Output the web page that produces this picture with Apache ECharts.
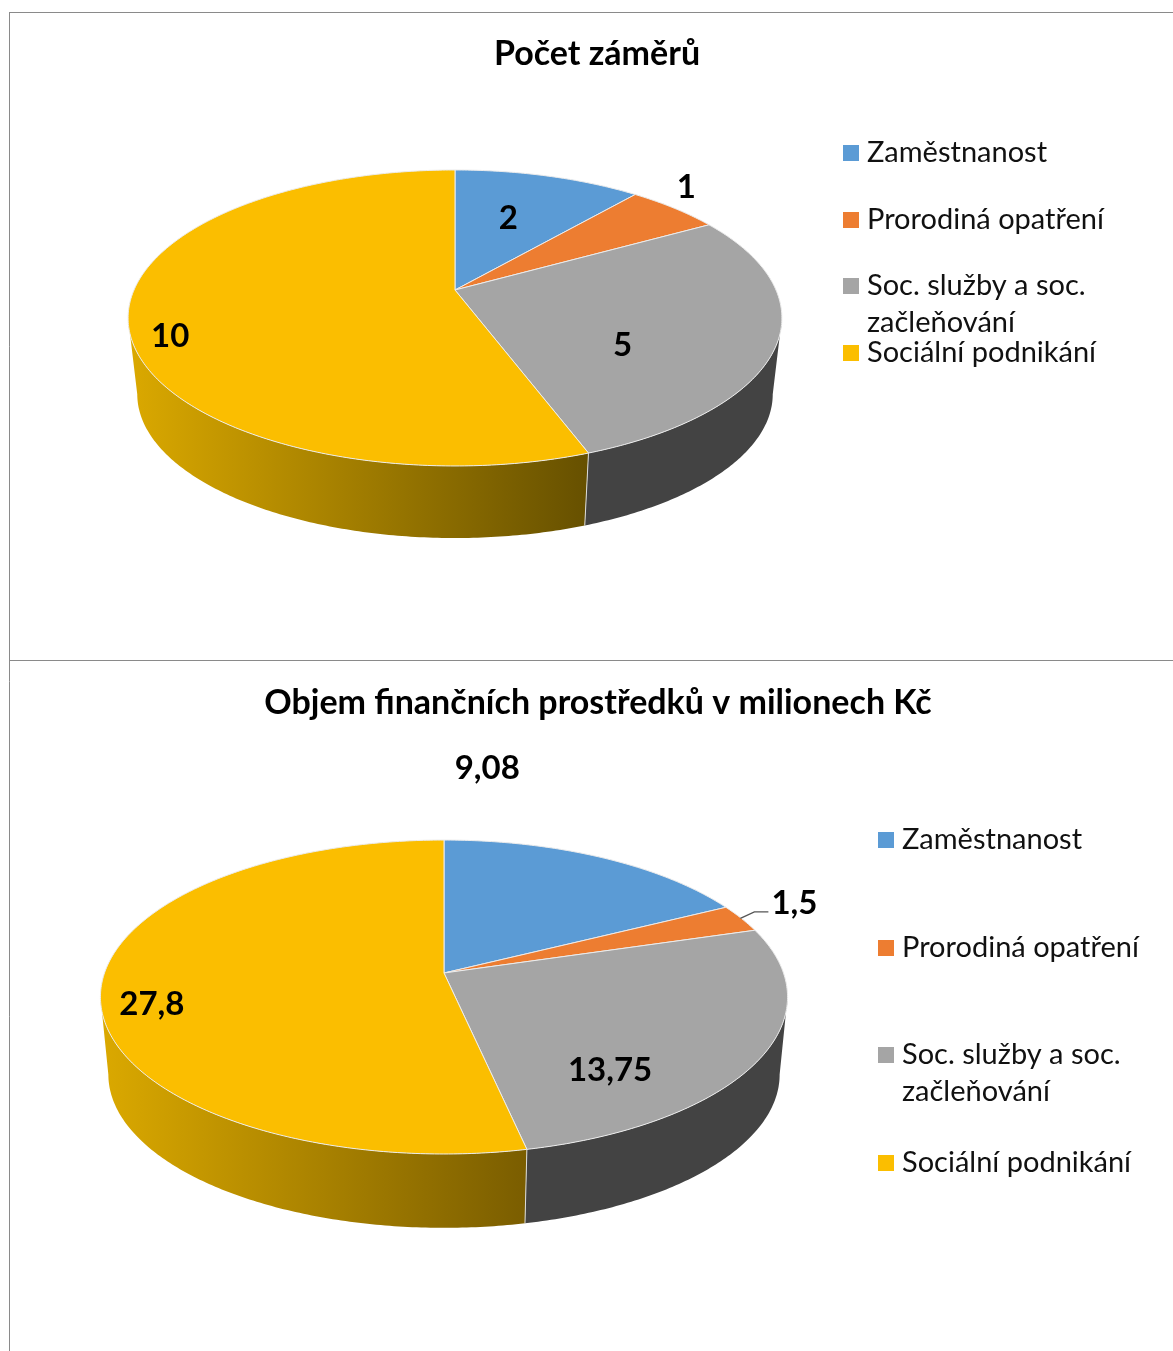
<!DOCTYPE html>
<html><head><meta charset="utf-8">
<style>html,body{margin:0;padding:0;background:#fff}#c{width:1173px;height:1351px}</style>
<script src="https://cdn.jsdelivr.net/npm/echarts@6/dist/echarts.min.js"></script>
</head><body><div id="c"></div>
<script>
// ---- data ----
const categories = ['Zaměstnanost', 'Prorodiná opatření', 'Soc. služby a soc. začleňování', 'Sociální podnikání'];
const countValues = [2, 1, 5, 10];
const fundValues = [9.08, 1.5, 13.75, 27.8];
const countLabels = ['2', '1', '5', '10'];
const fundLabels = ['9,08', '1,5', '13,75', '27,8'];
const chartTitles = ['Počet záměrů', 'Objem finančních prostředků v milionech Kč'];

// ---- style / layout ----
const FONT = 'Lato';
const topColors = ['#5B9BD5', '#ED7D31', '#A5A5A5', '#FBBE00'];
const pies = [
  { values: countValues, labels: countLabels, cx: 455, ay: 290, R: 321, S: 142.7, p: 0.189, k: 0.972, drop: 77,
    wallColors: [['#37678f', '#37678f'], ['#a0521d', '#a0521d'], ['#434343', '#434343'], ['#DBA900', '#665000']],
    labelOffsets: [[-40, 42], [12, -21], [-155, 3], [42, 21]], leader: [null, null, null, null],
    legendX: 843, legendY: [153, 220, 286, 353], titleX: 597, titleY: 54 },
  { values: fundValues, labels: fundLabels, cx: 444, ay: 973, R: 339.5, S: 153.3, p: 0.153, k: 0.977, drop: 78,
    wallColors: [['#37678f', '#37678f'], ['#a0521d', '#a0521d'], ['#434343', '#434343'], ['#DBA900', '#7a5d00']],
    labelOffsets: [[-113, -89], [53, -15], [-151, 13], [51, 15]], leader: [null, [[-1, 0], [13, -6.5], [27, -6.5]], null, null],
    legendX: 878, legendY: [840, 948, 1055, 1163], titleX: 598, titleY: 703 }
];
const legendLineHeight = 37;
const legendWrapped = { 'Soc. služby a soc. začleňování': '\nSoc. služby a soc.\nzačleňování' };
const RAD = Math.PI / 180;

function rimPoint(pie, deg) {
  const s = Math.sin(deg * RAD), c = Math.cos(deg * RAD), d = 1 + pie.p * c;
  return [pie.cx + pie.R * s / d, pie.ay - pie.S * c / d];
}
function lowerPoint(pie, deg) {
  const q = rimPoint(pie, deg);
  return [pie.cx + (q[0] - pie.cx) * pie.k, pie.ay + pie.drop + (q[1] - pie.ay) * pie.k];
}
function arc(fn, pie, a, b) {
  const n = Math.max(2, Math.ceil(Math.abs(b - a) * 1.5)), out = [];
  for (let i = 0; i <= n; i++) out.push(fn(pie, a + (b - a) * i / n));
  return out;
}
function makeRender(pie, idx) {
  const total = pie.values.reduce((x, y) => x + y, 0);
  const before = pie.values.slice(0, idx).reduce((x, y) => x + y, 0);
  return function (params, api) {
    const start = before / total * 360;
    const end = start + api.value(0) / total * 360;
    const mid = (start + end) / 2;
    const children = [];
    const a0 = Math.acos(-pie.p) / RAD, a1 = 360 - a0;
    const ws = Math.max(start, a0), we = Math.min(end, a1);
    if (we > ws) {
      const top = arc(rimPoint, pie, ws, we), low = arc(lowerPoint, pie, ws, we).reverse();
      children.push({
        type: 'polygon', z2: 1, shape: { points: top.concat(low) },
        style: { fill: new echarts.graphic.LinearGradient(0, 0, 1, 0, [
          { offset: 0, color: pie.wallColors[idx][0] }, { offset: 1, color: pie.wallColors[idx][1] }]), stroke: null }
      });
      if (we < a1 && we === end) {
        children.push({ type: 'polyline', z2: 2,
          shape: { points: [rimPoint(pie, we), lowerPoint(pie, we)] },
          style: { stroke: '#dcdcdc', lineWidth: 1, fill: null } });
      }
    }
    children.push({
      type: 'polygon', z2: 3,
      shape: { points: [[pie.cx, pie.ay]].concat(arc(rimPoint, pie, start, end)) },
      style: { fill: topColors[idx], stroke: '#ececec', lineWidth: 1, lineJoin: 'round' }
    });
    const m = rimPoint(pie, mid), off = pie.labelOffsets[idx];
    if (pie.leader[idx]) {
      children.push({ type: 'polyline', z2: 4,
        shape: { points: pie.leader[idx].map(o => [m[0] + o[0], m[1] + o[1]]) },
        style: { stroke: '#555', lineWidth: 1.3, fill: null } });
    }
    children.push({
      type: 'text', z2: 5,
      style: { text: pie.labels[idx], x: m[0] + off[0], y: m[1] + off[1], fill: '#000',
        font: 'bold 33px ' + FONT, align: 'center', verticalAlign: 'middle' }
    });
    return { type: 'group', children };
  };
}

const series = [], legends = [], titles = [];
pies.forEach((pie, pi) => {
  titles.push({ text: chartTitles[pi], left: pie.titleX, top: pie.titleY - 20, textAlign: 'center', padding: 0,
    textStyle: { fontFamily: FONT, fontWeight: 'bold', fontSize: 34, color: '#000', lineHeight: 40 } });
  categories.forEach((name, i) => {
    series.push({ type: 'custom', name, coordinateSystem: 'none', silent: true, animation: false,
      itemStyle: { color: topColors[i] }, renderItem: makeRender(pie, i), data: [pie.values[i]] });
    const wrapped = legendWrapped[name];
    legends.push({ data: [{ name, icon: 'rect' }], left: pie.legendX, orient: 'horizontal',
      top: pie.legendY[i] - (wrapped ? legendLineHeight * 1.5 : legendLineHeight / 2),
      padding: 0, itemWidth: 16, itemHeight: 16, itemGap: 0, selectedMode: false,
      formatter: () => wrapped || name,
      textStyle: { fontFamily: FONT, fontSize: 29, color: '#111', lineHeight: legendLineHeight, padding: [0, 0, 0, 3] } });
  });
});

const chart = echarts.init(document.getElementById('c'), null, { renderer: 'canvas' });
chart.setOption({
  backgroundColor: '#fff', animation: false,
  title: titles, legend: legends, series,
  graphic: [
    { type: 'line', z: 0, shape: { x1: 9, y1: 12.5, x2: 1173, y2: 12.5 }, style: { stroke: '#8a8a8a', lineWidth: 1 } },
    { type: 'line', z: 0, shape: { x1: 9, y1: 660.5, x2: 1173, y2: 660.5 }, style: { stroke: '#8a8a8a', lineWidth: 1 } },
    { type: 'line', z: 0, shape: { x1: 9.5, y1: 12, x2: 9.5, y2: 1351 }, style: { stroke: '#8a8a8a', lineWidth: 1 } }
  ]
});
</script></body></html>
